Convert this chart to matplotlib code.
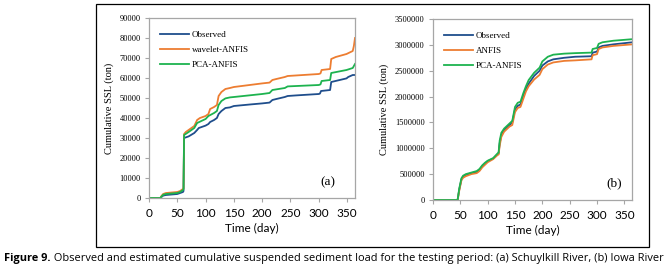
import matplotlib.pyplot as plt
from matplotlib.patches import Rectangle
from matplotlib.ticker import FormatStrFormatter

# panel (a) - Schuylkill River
days_a_obs = [0, 20, 22, 25, 30, 50, 55, 60, 61, 62, 70, 80, 85, 88, 100, 105, 108, 115, 120, 123,
              128, 135, 143, 150, 180, 200, 213, 218, 225, 240, 245, 260, 300, 302, 304, 320, 322,
              349, 352, 360, 365]
obs_a = [0, 0, 500, 1200, 1500, 2000, 2500, 3000, 3500, 30000, 30800, 32500, 34000, 35000, 36200,
         37000, 38000, 39000, 40000, 42000, 43500, 45000, 45300, 46000, 46800, 47300, 47700, 49000,
         49500, 50500, 51000, 51300, 52000, 52200, 53500, 54000, 58000, 59800, 60500, 61500, 61500]

days_a_wav = [0, 20, 22, 25, 30, 50, 55, 60, 61, 62, 65, 70, 80, 85, 90, 100, 105, 108, 115, 120,
              123, 128, 135, 143, 150, 200, 213, 218, 225, 240, 245, 300, 303, 305, 320, 322, 330,
              349, 360, 362, 364]
wavelet_a = [0, 0, 1000, 2000, 2500, 3000, 3500, 4500, 5000, 32000, 33000, 34000, 36000, 39000,
             40000, 41000, 42000, 44500, 45500, 46500, 51000, 53000, 54500, 55000, 55500, 57300,
             57700, 59000, 59500, 60500, 61000, 62000, 62300, 64000, 64500, 69500, 70500, 72000,
             73500, 76000, 80000]

days_a_pca = [0, 20, 22, 25, 30, 50, 55, 60, 61, 62, 70, 80, 85, 100, 105, 115, 120, 123, 128,
              135, 143, 150, 200, 213, 218, 240, 245, 300, 303, 305, 320, 322, 349, 360, 364]
pca_a = [0, 0, 700, 1600, 2000, 2500, 3000, 4000, 4500, 31500, 33000, 35000, 37500, 39500, 41000,
         42500, 43500, 46500, 48500, 49800, 50300, 50500, 52000, 52500, 54000, 55000, 55800, 56500,
         56800, 58500, 59000, 62500, 64000, 65000, 67000]

# panel (b) - Iowa River
days_b = [0, 45, 48, 52, 55, 60, 70, 80, 85, 90, 95, 100, 110, 118, 120, 122, 125, 130, 140, 145,
          150, 155, 160, 165, 170, 175, 185, 195, 200, 210, 220, 240, 260, 290, 292, 300, 303, 310,
          330, 365]
obs_b = [0, 0, 200000, 400000, 450000, 480000, 520000, 540000, 580000, 650000, 700000, 750000,
         800000, 880000, 900000, 1100000, 1250000, 1350000, 1450000, 1500000, 1750000, 1820000,
         1850000, 2000000, 2150000, 2250000, 2400000, 2500000, 2600000, 2680000, 2720000, 2750000,
         2770000, 2780000, 2850000, 2870000, 2950000, 2980000, 3010000, 3050000]
anfis_b = [0, 0, 180000, 380000, 430000, 460000, 500000, 520000, 560000, 630000, 680000, 730000,
           790000, 870000, 880000, 1050000, 1220000, 1320000, 1420000, 1450000, 1700000, 1780000,
           1800000, 1950000, 2100000, 2200000, 2330000, 2420000, 2530000, 2620000, 2660000,
           2690000, 2700000, 2720000, 2800000, 2820000, 2920000, 2950000, 2980000, 3010000]
pca_b = [0, 0, 220000, 420000, 470000, 500000, 530000, 560000, 600000, 670000, 720000, 760000,
         810000, 900000, 920000, 1150000, 1300000, 1380000, 1480000, 1530000, 1800000, 1880000,
         1900000, 2060000, 2200000, 2320000, 2460000, 2560000, 2680000, 2770000, 2810000, 2830000,
         2840000, 2850000, 2920000, 2940000, 3020000, 3050000, 3080000, 3110000]

x_ticks = [0, 50, 100, 150, 200, 250, 300, 350]

C_OBS = '#1f4e8c'
C_ORG = '#ed7d31'
C_GRN = '#1db34f'
SERIF = 'Liberation Serif'
SANS = 'Lato'

fig = plt.figure(figsize=(6.67, 2.70), dpi=100)

# outer frame round both panels
fig.patches.append(Rectangle((96 / 667, 1 - 247 / 270), (649 - 96) / 667, (247 - 4) / 270,
                             transform=fig.transFigure, fill=False, edgecolor='black', lw=0.9))

ax1 = fig.add_axes([149 / 667, 1 - 198 / 270, 206 / 667, 180 / 270])
ax2 = fig.add_axes([433 / 667, 1 - 200 / 270, 199 / 667, 181 / 270])


def style_axis(ax, ymax, ystep, label):
    ax.set_xlim(0, 364)
    ax.set_ylim(0, ymax)
    ax.set_xticks(x_ticks)
    ax.set_yticks(range(0, ymax + 1, ystep))
    ax.yaxis.set_major_formatter(FormatStrFormatter('%d'))
    for s in ax.spines.values():
        s.set_color('#a6a6a6')
        s.set_linewidth(0.9)
    ax.tick_params(axis='x', direction='out', length=3, color='#a6a6a6', labelsize=8.5, pad=4)
    ax.tick_params(axis='y', direction='out', length=3, color='#a6a6a6', labelsize=6, pad=3)
    for t in ax.get_xticklabels():
        t.set_fontfamily(SANS)
    for t in ax.get_yticklabels():
        t.set_fontfamily(SERIF)
    ax.set_xlabel('Time (day)', fontfamily=SANS, fontsize=8.5, labelpad=3)
    ax.set_ylabel(label, fontfamily=SERIF, fontsize=7.5, labelpad=4)


ax1.plot(days_a_obs, obs_a, color=C_OBS, lw=1.3, label='Observed')
ax1.plot(days_a_wav, wavelet_a, color=C_ORG, lw=1.3, label='wavelet-ANFIS')
ax1.plot(days_a_pca, pca_a, color=C_GRN, lw=1.3, label='PCA-ANFIS')
style_axis(ax1, 90000, 10000, 'Cumulative SSL (ton)')
ax1.text(0.87, 0.09, '(a)', transform=ax1.transAxes, fontfamily=SERIF, fontsize=9.5,
         ha='center', va='center')

ax2.plot(days_b, obs_b, color=C_OBS, lw=1.3, label='Observed')
ax2.plot(days_b, anfis_b, color=C_ORG, lw=1.3, label='ANFIS')
ax2.plot(days_b, pca_b, color=C_GRN, lw=1.3, label='PCA-ANFIS')
style_axis(ax2, 3500000, 500000, 'Cumulative SSL (ton)')
ax2.text(0.91, 0.09, '(b)', transform=ax2.transAxes, fontfamily=SERIF, fontsize=9.5,
         ha='center', va='center')

for ax in (ax1, ax2):
    ax.legend(loc='upper left', frameon=False, prop={'family': SERIF, 'size': 6.5},
              handlelength=3.2, handletextpad=0.3, labelspacing=0.75,
              borderaxespad=0.4, bbox_to_anchor=(0.02, 0.97))

CAP_SIZE = 7.9
cap = fig.text(0.006, 1 - 258 / 270, 'Figure 9.', fontfamily='Open Sans', fontsize=CAP_SIZE,
               fontweight='bold', va='center', ha='left')
fig.canvas.draw()
bb = cap.get_window_extent()
x_next = fig.transFigure.inverted().transform((bb.x1, bb.y0))[0]
fig.text(x_next, 1 - 258 / 270,
         ' Observed and estimated cumulative suspended sediment load for the testing period: '
         '(a) Schuylkill River, (b) Iowa River',
         fontfamily='Open Sans', fontsize=CAP_SIZE, va='center', ha='left')

fig.savefig('out.png', dpi=100)
